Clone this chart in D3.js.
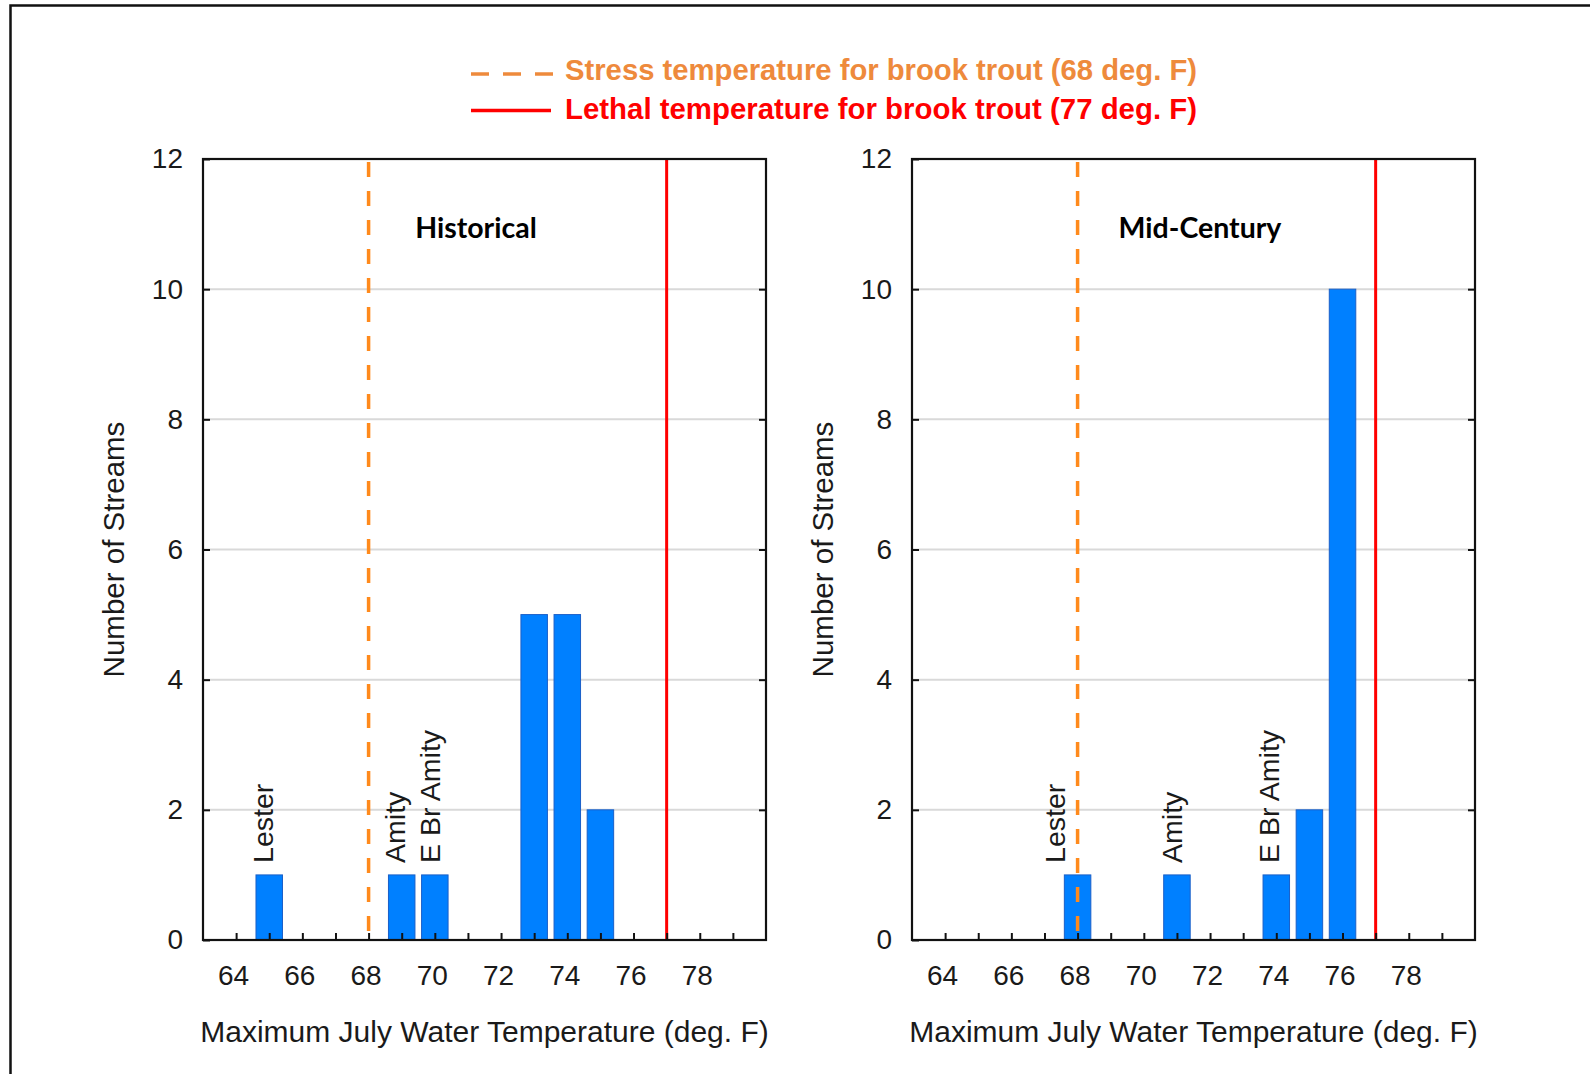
<!DOCTYPE html>
<html>
<head>
<meta charset="utf-8">
<script src="https://cdn.jsdelivr.net/npm/d3@7"></script>
<style>
  html, body { margin: 0; padding: 0; background: #fff; }
  svg { display: block; }
</style>
</head>
<body>
<svg id="chart" width="1590" height="1074"></svg>
<script>
// ---------------- DATA ----------------
const xTicks = [64, 66, 68, 70, 72, 74, 76, 78];
const xMinorTicks = [64, 65, 66, 67, 68, 69, 70, 71, 72, 73, 74, 75, 76, 77, 78, 79];
const yTicks = [0, 2, 4, 6, 8, 10, 12];

const histTemps  = [65, 69, 70, 73, 74, 75];
const histCounts = [1, 1, 1, 5, 5, 2];
const histLabels = ["Lester", "Amity", "E Br Amity"];
const histLabelTemps = [64.8, 68.8, 69.85];
const histLabelCounts = [1, 1, 1];

const midTemps  = [68, 71, 74, 75, 76];
const midCounts = [1, 1, 1, 2, 10];
const midLabels = ["Lester", "Amity", "E Br Amity"];
const midLabelTemps = [67.3, 70.83, 73.77];
const midLabelCounts = [1, 1, 1];

const stressTemp = 68;
const lethalTemp = 77;
const legendLabels = ["Stress temperature for brook trout (68 deg. F)",
                      "Lethal temperature for brook trout (77 deg. F)"];
const panelTitles = ["Historical", "Mid-Century"];
const xAxisTitle = "Maximum July Water Temperature (deg. F)";
const yAxisTitle = "Number of Streams";

// ---------------- LAYOUT ----------------
const svg = d3.select("#chart");
const ORANGE_TXT = "#EE8A3C";
const ORANGE = "#FF8A1C";
const RED = "#FF0000";
const BLUE = "#0080FF";
const sansFont = "'Liberation Sans', Arial, sans-serif";

// outer frame
svg.append("rect")
  .attr("x", 10.5).attr("y", 5.5)
  .attr("width", 1700).attr("height", 1200)
  .attr("fill", "none").attr("stroke", "#111").attr("stroke-width", 2.5);

// legend
const legend = svg.append("g");
legend.append("line")
  .attr("x1", 471).attr("x2", 553).attr("y1", 74).attr("y2", 74)
  .attr("stroke", ORANGE_TXT).attr("stroke-width", 3.5)
  .attr("stroke-dasharray", "18,14");
legend.append("line")
  .attr("x1", 471).attr("x2", 551).attr("y1", 110.5).attr("y2", 110.5)
  .attr("stroke", RED).attr("stroke-width", 3.5);
legend.append("text")
  .attr("x", 565).attr("y", 80)
  .attr("fill", ORANGE_TXT)
  .attr("textLength", 632).attr("lengthAdjust", "spacingAndGlyphs")
  .style("font-family", "'Liberation Sans Narrow', 'Arial Narrow', 'Liberation Sans', sans-serif")
  .style("font-weight", "bold").style("font-size", "30px")
  .text(legendLabels[0]);
legend.append("text")
  .attr("x", 565).attr("y", 119)
  .attr("fill", RED)
  .attr("textLength", 632).attr("lengthAdjust", "spacingAndGlyphs")
  .style("font-family", "'Liberation Sans Narrow', 'Arial Narrow', 'Liberation Sans', sans-serif")
  .style("font-weight", "bold").style("font-size", "30px")
  .text(legendLabels[1]);

function drawPanel(opts) {
  const { x0, x1, y0, y1, temps, counts, labels, labelTemps, labelCounts, title, titleX } = opts;
  const x = d3.scaleLinear().domain([63, 80]).range([x0, x1]);
  const y = d3.scaleLinear().domain([0, 12]).range([y1, y0]);
  const g = svg.append("g");

  // gridlines
  g.append("g").selectAll("line")
    .data(yTicks.filter(d => d > 0 && d < 12))
    .join("line")
    .attr("x1", x0).attr("x2", x1)
    .attr("y1", d => y(d)).attr("y2", d => y(d))
    .attr("stroke", "#d9d9d9").attr("stroke-width", 2);

  // bars
  const bw = (x(1) - x(0)) * 0.8;
  g.append("g").selectAll("rect")
    .data(temps.map((t, i) => ({ t, c: counts[i] })))
    .join("rect")
    .attr("x", d => x(d.t) - bw / 2)
    .attr("y", d => y(d.c))
    .attr("width", bw)
    .attr("height", d => y(0) - y(d.c))
    .attr("fill", BLUE)
    .attr("stroke", "#1a5fc8").attr("stroke-width", 1);

  // threshold lines
  g.append("line")
    .attr("x1", x(stressTemp)).attr("x2", x(stressTemp))
    .attr("y1", y0 + 3).attr("y2", y1)
    .attr("stroke", ORANGE).attr("stroke-width", 3.5)
    .attr("stroke-dasharray", "15,14");
  g.append("line")
    .attr("x1", x(lethalTemp)).attr("x2", x(lethalTemp))
    .attr("y1", y0).attr("y2", y1)
    .attr("stroke", RED).attr("stroke-width", 3);

  // frame
  g.append("rect")
    .attr("x", x0).attr("y", y0)
    .attr("width", x1 - x0).attr("height", y1 - y0)
    .attr("fill", "none").attr("stroke", "#111").attr("stroke-width", 2.2);

  // y axis (left, inward ticks)
  const yAxisL = d3.axisLeft(y).tickValues(yTicks).tickSize(-7).tickPadding(20);
  const gy = g.append("g").attr("transform", `translate(${x0},0)`).call(yAxisL);
  gy.select(".domain").remove();
  gy.selectAll(".tick line").attr("stroke", "#111").attr("stroke-width", 2);
  gy.selectAll(".tick text")
    .style("font-family", sansFont).style("font-size", "28px").attr("fill", "#1a1a1a");
  // right-side inward ticks
  const yAxisR = d3.axisRight(y).tickValues(yTicks.filter(d => d > 0 && d < 12)).tickSize(-7).tickFormat("");
  const gyr = g.append("g").attr("transform", `translate(${x1},0)`).call(yAxisR);
  gyr.select(".domain").remove();
  gyr.selectAll(".tick line").attr("stroke", "#111").attr("stroke-width", 2);

  // x axis minor ticks (inward)
  const xAxisTicks = d3.axisBottom(x).tickValues(xMinorTicks).tickSize(-7).tickFormat("");
  const gxt = g.append("g").attr("transform", `translate(0,${y1})`).call(xAxisTicks);
  gxt.select(".domain").remove();
  gxt.selectAll(".tick line").attr("stroke", "#111").attr("stroke-width", 2);
  // x labels
  const xAxisLabels = d3.axisBottom(x).tickValues(xTicks).tickSize(0).tickPadding(25);
  const gxl = g.append("g").attr("transform", `translate(0,${y1})`).call(xAxisLabels);
  gxl.select(".domain").remove();
  gxl.selectAll(".tick text")
    .attr("dx", -3)
    .style("font-family", sansFont).style("font-size", "28px").attr("fill", "#1a1a1a");

  // bar labels
  g.append("g").selectAll("text")
    .data(labels.map((l, i) => ({ l, t: labelTemps[i], c: labelCounts[i] })))
    .join("text")
    .attr("transform", d => `translate(${x(d.t)},${y(d.c) - 12}) rotate(-90)`)
    .attr("dy", "0.36em")
    .style("font-family", sansFont).style("font-size", "28.5px").attr("fill", "#1a1a1a")
    .text(d => d.l);

  // title
  g.append("text")
    .attr("x", titleX).attr("y", 238)
    .attr("text-anchor", "middle")
    .style("font-family", "Lato, 'Open Sans', sans-serif")
    .style("font-weight", "bold").style("font-size", "28.5px").attr("fill", "#000")
    .text(title);

  // axis titles
  g.append("text")
    .attr("x", (x0 + x1) / 2).attr("y", y1 + 102)
    .attr("text-anchor", "middle")
    .style("font-family", sansFont).style("font-size", "30px").attr("fill", "#1a1a1a")
    .text(xAxisTitle);
  g.append("text")
    .attr("transform", `translate(${x0 - 90},${(y0 + y1) / 2}) rotate(-90)`)
    .attr("text-anchor", "middle").attr("dy", "0.36em")
    .style("font-family", sansFont).style("font-size", "29.5px").attr("fill", "#1a1a1a")
    .text(yAxisTitle);
}

drawPanel({ x0: 203, x1: 766, y0: 159, y1: 940,
  temps: histTemps, counts: histCounts,
  labels: histLabels, labelTemps: histLabelTemps, labelCounts: histLabelCounts,
  title: panelTitles[0], titleX: 476 });
drawPanel({ x0: 912, x1: 1475, y0: 159, y1: 940,
  temps: midTemps, counts: midCounts,
  labels: midLabels, labelTemps: midLabelTemps, labelCounts: midLabelCounts,
  title: panelTitles[1], titleX: 1200 });
</script>
</body>
</html>
